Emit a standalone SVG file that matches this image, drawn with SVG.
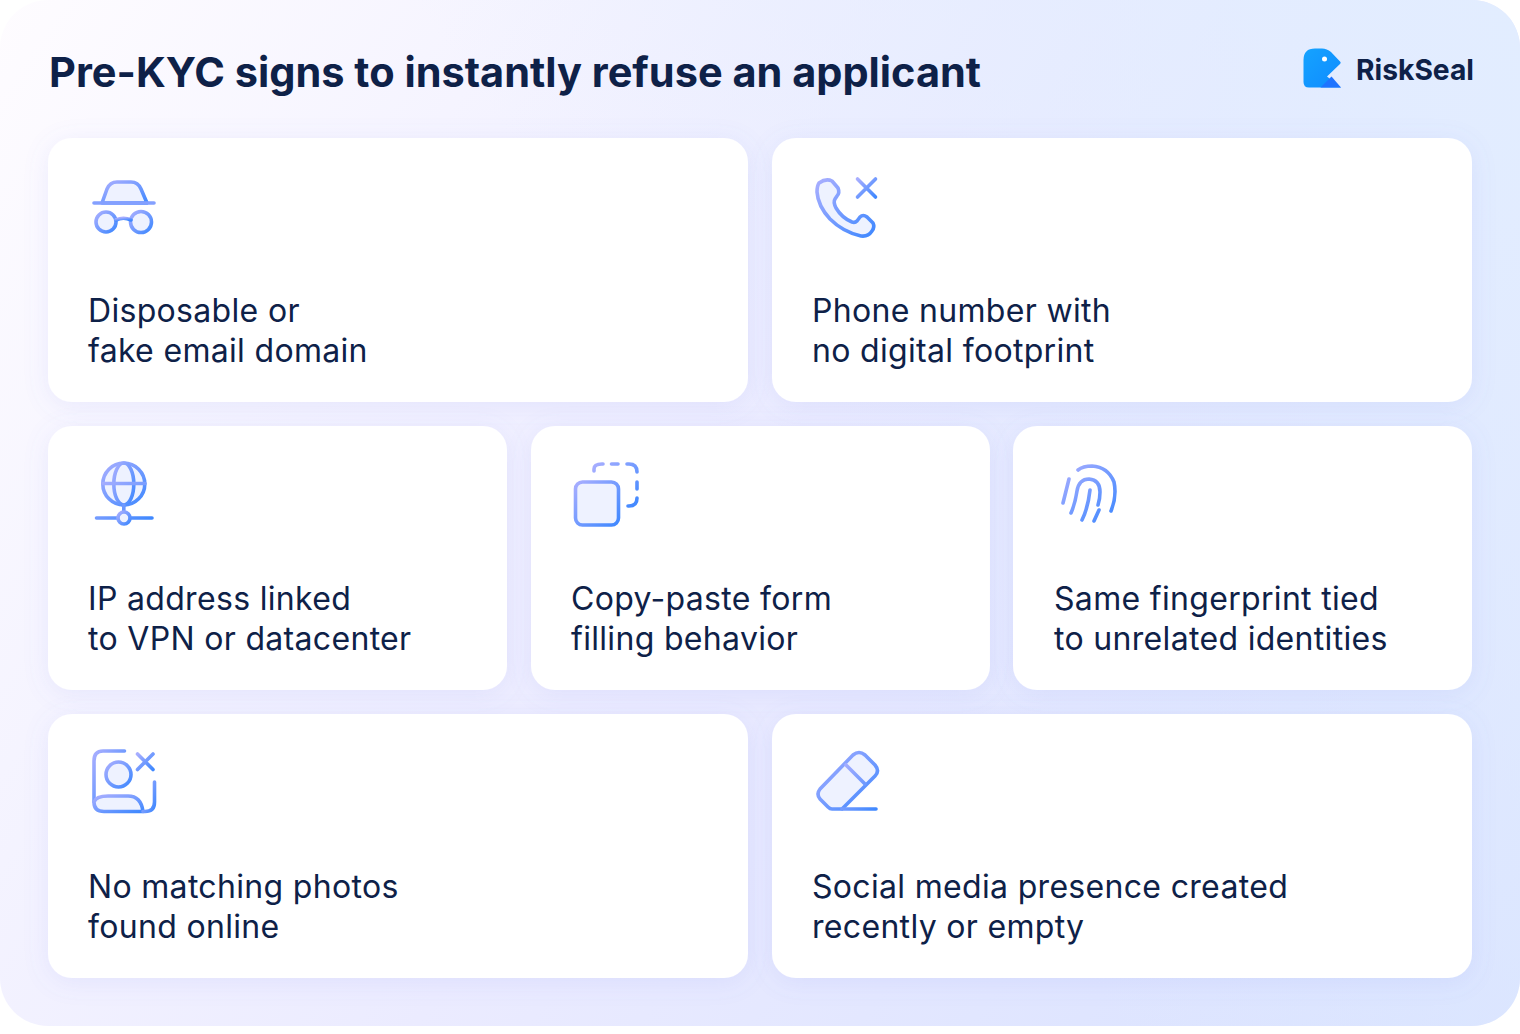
<svg xmlns="http://www.w3.org/2000/svg" width="1520" height="1034" viewBox="0 0 1520 1034">
<style>
.c{fill:#fff;filter:url(#sh)}
.t{font-family:"Inter","Liberation Sans",sans-serif;font-size:32px;font-weight:400;fill:#0e2148;letter-spacing:.32px}
.s{fill:none;stroke:url(#g);stroke-width:3.600;stroke-linecap:round;stroke-linejoin:round}
.h{fill:none;stroke:#84a0ff;stroke-width:3.600;stroke-linecap:round}
.f{fill:#eef2ff;stroke:url(#g);stroke-width:3.600;stroke-linecap:round;stroke-linejoin:round}
</style>
<defs>
<linearGradient id="bg" x1="0" y1="0" x2="1520" y2="1026" gradientUnits="userSpaceOnUse"><stop offset="0" stop-color="#fefcff"/><stop offset=".5" stop-color="#ebebff"/><stop offset="1" stop-color="#d7e1ff"/></linearGradient>
<linearGradient id="bg2" x1="1520" y1="0" x2="0" y2="1026" gradientUnits="userSpaceOnUse"><stop offset="0" stop-color="#e2edff"/><stop offset=".5" stop-color="#e2edff" stop-opacity="0"/><stop offset="1" stop-color="#f4eeff" stop-opacity="0"/></linearGradient>
<linearGradient id="g" x1="0" y1="0" x2="1" y2="1"><stop offset="0" stop-color="#a8aeff"/><stop offset="1" stop-color="#3f88ff"/></linearGradient>
<linearGradient id="lg" x1="0" y1="0" x2="1" y2="1"><stop offset="0" stop-color="#15a3ff"/><stop offset="1" stop-color="#0f8bff"/></linearGradient>
<filter id="sh" x="-10%" y="-20%" width="120%" height="140%"><feDropShadow dx="0" dy="4" stdDeviation="12" flood-color="#7a86e8" flood-opacity=".12"/></filter>
</defs>
<rect width="1520" height="1034" fill="#fff"/>
<rect width="1520" height="1026" rx="48" fill="url(#bg)"/>
<rect width="1520" height="1026" rx="48" fill="url(#bg2)"/>
<text x="49" y="87" font-family="Inter,'Liberation Sans',sans-serif" font-size="41" font-weight="700" fill="#0e2148" textLength="932" lengthAdjust="spacingAndGlyphs">Pre-KYC signs to instantly refuse an applicant</text>
<g id="logo">
<path d="M1303.500 60Q1303.500 48.500 1315 48.500H1322Q1327 48.500 1331 52L1340.500 62Q1341 63 1340 64L1327 76.500L1341 87.500H1309Q1303.500 87.500 1303.500 82Z" fill="url(#lg)"/>
<path d="M1320.500 87.500L1331.500 76.500L1341 87.500Z" fill="#1f74ff"/>
<circle cx="1324.500" cy="59" r="2.500" fill="#fff"/>
<text x="1356" y="80" font-family="Inter,'Liberation Sans',sans-serif" font-size="29" font-weight="700" fill="#0e2148" textLength="118" lengthAdjust="spacingAndGlyphs">RiskSeal</text>
</g>
<g id="connectors"/>
<g id="card1">
<rect class="c" x="48" y="138" width="700" height="264" rx="24"/>
<path class="f" d="M102 203L107 189Q110 182 117 182H131Q138 182 141 189L147 203Z"/>
<path class="h" d="M94 203H154"/>
<circle class="f" cx="106" cy="222" r="10"/><circle class="f" cx="141" cy="222" r="10.500"/>
<path class="s" d="M116 220Q123.500 216.500 131 220"/>
<text class="t" x="88" y="322">Disposable or</text><text class="t" x="88" y="362">fake email domain</text>
</g>
<g id="card2">
<rect class="c" x="772" y="138" width="700" height="264" rx="24"/>
<path class="f" d="M819 183Q826 178 832 181L838 188Q840 193 837 196L835 199Q833 202 836 208Q842 218 852 222Q855 223 857 221L860 217Q863 214 867 217L873 223Q875 227 872 231Q868 237 861 236Q843 232 830 219Q818 206 817 192Q817 186 819 183Z"/>
<path class="s" d="M857.500 179L875.500 197M875.500 179L857.500 197"/>
<text class="t" x="812" y="322">Phone number with</text><text class="t" x="812" y="362">no digital footprint</text>
</g>
<g id="card3">
<rect class="c" x="48" y="426" width="459" height="264" rx="24"/>
<circle class="f" cx="123.800" cy="484" r="21"/>
<ellipse class="s" cx="123.800" cy="484" rx="10" ry="21"/>
<path class="s" d="M103 483.500H145M123.800 505V512M96.500 518H152"/>
<circle class="f" cx="124" cy="518" r="6"/>
<text class="t" x="88" y="610">IP address linked</text><text class="t" x="88" y="650">to VPN or datacenter</text>
</g>
<g id="card4">
<rect class="c" x="531" y="426" width="459" height="264" rx="24"/>
<path class="s" d="M594 471V469Q594 464 602 464H603M611.500 464H618M627 464H629Q637 464 637 472V472M637 482V489M637 498V498Q637 506 629 506H628"/>
<rect class="f" x="575.500" y="482" width="43" height="43" rx="7"/>
<text class="t" x="571" y="610">Copy-paste form</text><text class="t" x="571" y="650">filling behavior</text>
</g>
<g id="card5">
<rect class="c" x="1013" y="426" width="459" height="264" rx="24"/>
<path class="s" d="M1078 470Q1083 466 1092 466Q1108 467 1114 482Q1117 496 1111 511M1069 479Q1067 487 1063 503M1071 513Q1075 504 1077 491Q1079 479 1089 479Q1100 480 1100 492Q1100 499 1098 505M1082 520Q1088 508 1090 490M1099 510L1094 521"/>
<text class="t" x="1054" y="610">Same fingerprint tied</text><text class="t" x="1054" y="650">to unrelated identities</text>
</g>
<g id="card6">
<rect class="c" x="48" y="714" width="700" height="264" rx="24"/>
<path class="s" d="M124.500 751H103Q94 751 94 761V802"/>
<path class="f" d="M94 802Q96 796 108 796H128Q141 796 143 811.500H104Q94 811.500 94 802Z"/>
<path class="s" d="M143 811.500H145Q154.500 811.500 154.500 802V782"/>
<circle class="f" cx="118.500" cy="774.500" r="12.500"/>
<path class="s" d="M137.500 754L153 769.500M153 754L137.500 769.500"/>
<text class="t" x="88" y="898">No matching photos</text><text class="t" x="88" y="938">found online</text>
</g>
<g id="card7">
<rect class="c" x="772" y="714" width="700" height="264" rx="24"/>
<path class="f" d="M853 755Q859 750 865 755L875 765Q880 771 875 776L842 809H832Q830 809 828 807L820 799Q816 794 820 789Z"/>
<path class="s" d="M846 765L865 784M842 809H876"/>
<text class="t" x="812" y="898">Social media presence created</text><text class="t" x="812" y="938">recently or empty</text>
</g>
</svg>
